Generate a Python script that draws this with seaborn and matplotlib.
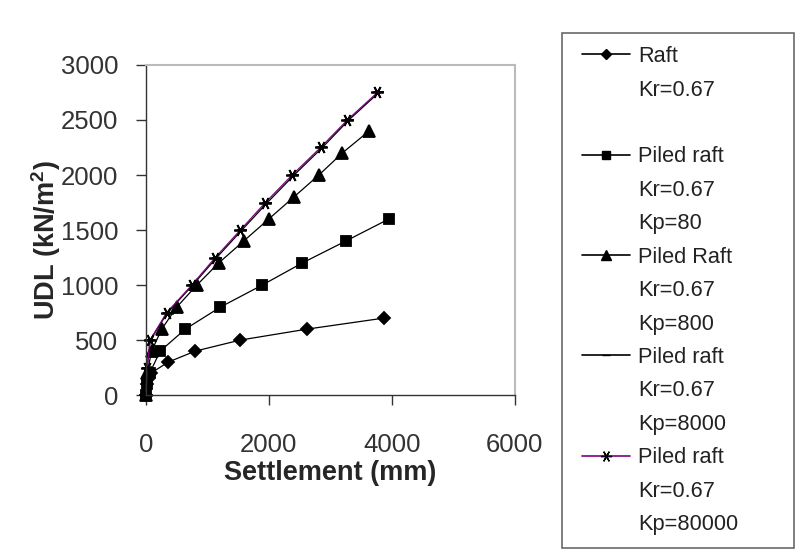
import numpy as np
import pandas as pd
import matplotlib
matplotlib.use("Agg")
import matplotlib.pyplot as plt
from matplotlib.lines import Line2D
from matplotlib.legend_handler import HandlerLine2D
import seaborn as sns

# settlement (mm) / UDL (kN/m2)
raft_x = [0, 15, 30, 80, 360, 800, 1530, 2620, 3870]
raft_y = [0, 100, 150, 200, 300, 400, 500, 600, 700]

kp80_x = [0, 15, 60, 230, 640, 1210, 1890, 2540, 3250, 3950]
kp80_y = [0, 100, 200, 400, 600, 800, 1000, 1200, 1400, 1600]

kp800_x = [0, 20, 90, 256, 500, 827, 1181, 1589, 1997, 2405, 2813, 3194, 3629]
kp800_y = [0, 200, 400, 600, 800, 1000, 1200, 1400, 1600, 1800, 2000, 2200, 2400]

kp8000_x = [0, 20, 70, 350, 760, 1150, 1560, 1975, 2410, 2870, 3300, 3790]
kp8000_y = [0, 250, 500, 750, 1000, 1250, 1500, 1750, 2000, 2250, 2500, 2750]

kp80000_x = [0, 18, 65, 337, 745, 1127, 1535, 1943, 2378, 2841, 3276, 3766]
kp80000_y = [0, 250, 500, 750, 1000, 1250, 1500, 1750, 2000, 2250, 2500, 2750]

series = ["Raft", "Kp=80", "Kp=800", "Kp=8000", "Kp=80000"]
legend_rows = [
    ["Raft", "Kr=0.67", ""],
    ["Piled raft", "Kr=0.67", "Kp=80"],
    ["Piled Raft", "Kr=0.67", "Kp=800"],
    ["Piled raft", "Kr=0.67", "Kp=8000"],
    ["Piled raft", "Kr=0.67", "Kp=80000"],
]

frames = []
for name, xs, ys in zip(series,
                        [raft_x, kp80_x, kp800_x, kp8000_x, kp80000_x],
                        [raft_y, kp80_y, kp800_y, kp8000_y, kp80000_y]):
    frames.append(pd.DataFrame({"settlement": xs, "udl": ys, "case": name}))
df = pd.concat(frames, ignore_index=True)

colors = {"Raft": "black", "Kp=80": "black", "Kp=800": "black",
          "Kp=8000": "black", "Kp=80000": "#800080"}
markers = {"Raft": "D", "Kp=80": "s", "Kp=800": "^",
           "Kp=8000": "_", "Kp=80000": (6, 2, 90)}
msizes = {"Raft": 6, "Kp=80": 7, "Kp=800": 8, "Kp=8000": 7, "Kp=80000": 9}

sns.set_style("white")
plt.rcParams["font.family"] = ["Liberation Sans", "DejaVu Sans"]
plt.rcParams["mathtext.fontset"] = "custom"
plt.rcParams["mathtext.bf"] = "Liberation Sans:bold"
plt.rcParams["mathtext.rm"] = "Liberation Sans"

fig = plt.figure(figsize=(8, 5.55), dpi=100)
ax = fig.add_axes([0.1825, 0.288, 0.461, 0.595])

for name in series:
    sub = df[df["case"] == name]
    sns.lineplot(data=sub, x="settlement", y="udl", ax=ax, color=colors[name],
                 marker=markers[name], markersize=msizes[name],
                 markeredgecolor="black", markerfacecolor="black",
                 markeredgewidth=1.3, linewidth=0.9, sort=False,
                 estimator=None, clip_on=False)

ax.set_xlim(0, 6000)
ax.set_ylim(0, 3000)
ax.set_xticks([0, 2000, 4000, 6000])
ax.set_yticks([0, 500, 1000, 1500, 2000, 2500, 3000])
ax.tick_params(axis="both", which="major", direction="out", length=7,
               width=1, labelsize=18.5, labelcolor="#333333", color="#333333",
               left=True, bottom=True)
ax.tick_params(axis="y", pad=13)
ax.tick_params(axis="x", pad=20)

for side in ["left", "bottom"]:
    ax.spines[side].set_color("#333333")
    ax.spines[side].set_linewidth(1)
for side in ["top", "right"]:
    ax.spines[side].set_color("#bbbbbb")
    ax.spines[side].set_linewidth(1.5)

ax.set_xlabel("Settlement (mm)", fontsize=19.5, fontweight="bold")
ax.set_ylabel(r"UDL (kN/m$\mathbf{^2}$)", fontsize=19.5, fontweight="bold")
ax.xaxis.set_label_coords(0.5, -0.197)
ax.yaxis.set_label_coords(-0.226, 0.47)

# legend: one handle per case followed by two text-only rows
handles, labels = [], []
blank = Line2D([], [], linestyle="none", marker=None)
for name, rows in zip(series, legend_rows):
    handles.append(Line2D([], [], color=colors[name], linewidth=1.2,
                          marker=markers[name], markersize=msizes[name] - 1,
                          markerfacecolor="black", markeredgecolor="black"))
    labels.append(rows[0])
    for r in rows[1:]:
        handles.append(blank)
        labels.append(r)

leg = fig.legend(handles, labels, loc="upper left",
                 bbox_to_anchor=(0.7025, 0.0, 0.29, 0.9405),
                 mode="expand", fontsize=15.7, frameon=True, fancybox=False,
                 edgecolor="#444444", labelspacing=0.57, handlelength=2.52,
                 handletextpad=0.37, borderpad=0.6, borderaxespad=0,
                 handler_map={Line2D: HandlerLine2D(xpad=0.32)})
leg.get_frame().set_linewidth(1.2)
for t in leg.get_texts():
    t.set_color("#222222")

fig.savefig("out.png", dpi=100, facecolor="white")
